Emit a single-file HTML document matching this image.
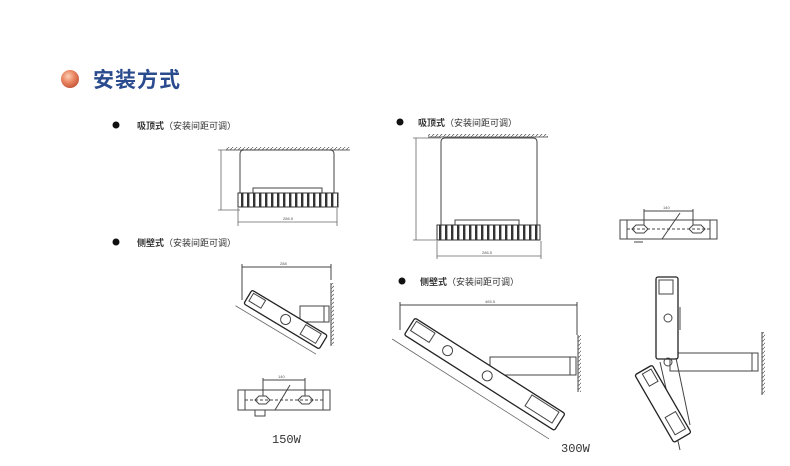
<!DOCTYPE html>
<html><head><meta charset="utf-8"><style>
html,body{margin:0;padding:0;background:#fff;}
svg{display:block;}
text{font-family:"Liberation Sans","Noto Sans CJK SC",sans-serif;}
text.mono{font-family:"Liberation Mono",monospace;}
</style></head><body>
<svg width="790" height="466" viewBox="0 0 790 466" xmlns="http://www.w3.org/2000/svg">
<defs>
<radialGradient id="ball" cx="40%" cy="35%" r="65%"><stop offset="0" stop-color="#fbd0b8"/><stop offset="0.5" stop-color="#ec8a66"/><stop offset="1" stop-color="#c85a3c"/></radialGradient>
<pattern id="fins" width="6" height="20" patternUnits="userSpaceOnUse"><rect width="6" height="20" fill="#fff"/><rect x="1" y="0" width="2.4" height="20" fill="#333"/></pattern>
<pattern id="hatch" width="4" height="4" patternUnits="userSpaceOnUse"><path d="M0 4 L4 0" stroke="#666" stroke-width="0.8"/></pattern>
</defs>
<rect width="790" height="466" fill="#fff"/>
<circle cx="70" cy="79" r="9" fill="url(#ball)"/>
<text x="93" y="87" font-size="21" font-weight="bold" fill="#2a4b8e" letter-spacing="1">安装方式</text>

<g font-size="9" fill="#333">
<circle cx="116" cy="125" r="3.5" fill="#111"/><text x="137" y="129"><tspan font-weight="bold">吸顶式</tspan>（安装间距可调）</text>
<circle cx="116" cy="242" r="3.5" fill="#111"/><text x="137" y="246"><tspan font-weight="bold">侧壁式</tspan>（安装间距可调）</text>
<circle cx="400" cy="122" r="3.5" fill="#111"/><text x="418" y="126"><tspan font-weight="bold">吸顶式</tspan>（安装间距可调）</text>
<circle cx="402" cy="281" r="3.5" fill="#111"/><text x="420" y="285"><tspan font-weight="bold">侧壁式</tspan>（安装间距可调）</text>
</g>

<g fill="none" stroke="#444" stroke-width="1">
<line x1="226" y1="150" x2="350" y2="150" stroke="#666"/>
<rect x="226" y="147" width="124" height="3" fill="url(#hatch)" stroke="none"/>
<path d="M240 193 V154 Q240 150 244 150 H330 Q334 150 334 154 V193"/>
<rect x="253" y="188" width="69" height="6" fill="#fff"/>
<rect x="238" y="193" width="100" height="14" fill="url(#fins)" stroke="#333"/>
<g stroke="#666" stroke-width="0.8">
<line x1="221" y1="150" x2="221" y2="210"/><line x1="218" y1="150" x2="240" y2="150"/><line x1="218" y1="210" x2="240" y2="210"/>
<line x1="238" y1="222" x2="337" y2="222"/><line x1="238" y1="208" x2="238" y2="226"/><line x1="337" y1="208" x2="337" y2="226"/>
</g>

<line x1="428" y1="137" x2="548" y2="137" stroke="#666"/>
<rect x="428" y="134" width="120" height="3" fill="url(#hatch)" stroke="none"/>
<path d="M441 226 V142 Q441 138 445 138 H533 Q537 138 537 142 V226"/>
<rect x="455" y="220" width="64" height="6" fill="#fff"/>
<rect x="437" y="225" width="103" height="15" fill="url(#fins)" stroke="#333"/>
<g stroke="#666" stroke-width="0.8">
<line x1="416" y1="138" x2="416" y2="240"/><line x1="413" y1="138" x2="441" y2="138"/><line x1="413" y1="240" x2="437" y2="240"/>
<line x1="437" y1="256" x2="541" y2="256"/><line x1="437" y1="241" x2="437" y2="259"/><line x1="541" y1="241" x2="541" y2="259"/>
</g>

<rect x="620" y="220" width="97" height="19"/>
<line x1="627" y1="220" x2="627" y2="239"/><line x1="710" y1="220" x2="710" y2="239"/>
<path d="M632 229 L636 225 H644 L648 229 L644 233 H636 Z"/>
<path d="M689 229 L693 225 H701 L705 229 L701 233 H693 Z"/>
<line x1="627" y1="229" x2="710" y2="229" stroke-dasharray="3 2"/>
<line x1="644" y1="211" x2="693" y2="211"/><line x1="644" y1="209" x2="644" y2="225"/><line x1="693" y1="209" x2="693" y2="225"/>
<line x1="662" y1="239" x2="680" y2="213"/>
<line x1="634" y1="242" x2="643" y2="242"/>

<line x1="242" y1="267" x2="331" y2="267"/><line x1="242" y1="264" x2="242" y2="300"/><line x1="331" y1="264" x2="331" y2="280"/>
<line x1="331" y1="283" x2="331" y2="346" stroke="#444"/>
<rect x="331" y="283" width="3" height="63" fill="url(#hatch)" stroke="none"/>
<rect x="300" y="306" width="29" height="16" fill="#fff"/>
<line x1="324" y1="306" x2="324" y2="322"/>
<g transform="translate(252,290) rotate(31)">
<rect x="0" y="0" width="88" height="16" rx="2" fill="#fff" stroke="#222" stroke-width="1.3"/>
<rect x="3" y="2" width="14" height="9"/>
<circle cx="44" cy="8" r="5"/>
<rect x="64" y="2" width="18" height="11"/>
<line x1="-6" y1="22" x2="88" y2="22" stroke="#666" stroke-width="0.8"/>
</g>
<rect x="238" y="390" width="92" height="20"/>
<line x1="245" y1="390" x2="245" y2="410"/><line x1="323" y1="390" x2="323" y2="410"/>
<path d="M255 400 L259 396 H266 L270 400 L266 404 H259 Z"/>
<path d="M298 400 L302 396 H309 L313 400 L309 404 H302 Z"/>
<line x1="245" y1="400" x2="323" y2="400" stroke-dasharray="3 2"/>
<line x1="263" y1="380" x2="305" y2="380"/><line x1="263" y1="378" x2="263" y2="396"/><line x1="305" y1="378" x2="305" y2="396"/>
<line x1="275" y1="410" x2="290" y2="385"/>
<path d="M255 410 V416 H265 V410"/>

<line x1="400" y1="305" x2="577" y2="305"/><line x1="400" y1="302" x2="400" y2="330"/><line x1="577" y1="302" x2="577" y2="335"/>
<line x1="578" y1="335" x2="578" y2="392" stroke="#444"/>
<rect x="578" y="335" width="3" height="57" fill="url(#hatch)" stroke="none"/>
<rect x="490" y="357" width="86" height="18" fill="#fff"/>
<line x1="570" y1="357" x2="570" y2="375"/>
<g transform="translate(415,318) rotate(32.5)">
<rect x="0" y="0" width="178" height="20" rx="2" fill="#fff" stroke="#222" stroke-width="1.3"/>
<rect x="3" y="2" width="22" height="11"/>
<circle cx="45" cy="10" r="5"/>
<circle cx="92" cy="10" r="5"/>
<rect x="140" y="2" width="32" height="13"/>
<line x1="-8" y1="30" x2="178" y2="30" stroke="#666" stroke-width="0.8"/>
</g>

<line x1="762" y1="332" x2="762" y2="395" stroke="#444"/>
<rect x="762" y="332" width="3" height="63" fill="url(#hatch)" stroke="none"/>
<rect x="670" y="353" width="88" height="18" fill="#fff"/>
<line x1="752" y1="353" x2="752" y2="371"/>
<rect x="656" y="277" width="22" height="82" rx="2" fill="#fff" stroke="#222" stroke-width="1.3"/>
<rect x="659" y="280" width="14" height="14"/>
<circle cx="668" cy="318" r="4"/><circle cx="668" cy="362" r="4"/>
<line x1="680" y1="307" x2="680" y2="330"/>
<line x1="660" y1="362" x2="680" y2="450"/><line x1="676" y1="358" x2="690" y2="425"/>
<g transform="translate(640,372) rotate(60)">
<rect x="0" y="-14" width="78" height="20" rx="2" fill="#fff" stroke="#222" stroke-width="1.3"/>
<rect x="3" y="-11" width="14" height="10"/>
<rect x="52" y="-11" width="20" height="12"/>
</g>
</g>

<g font-size="4" fill="#555">
<text x="283" y="220">286.5</text><text x="482" y="254">286.5</text>
<text x="280" y="265">288</text><text x="485" y="303">465.5</text>
<text x="663" y="209">140</text><text x="278" y="378">140</text>
</g>
<text class="mono" x="272" y="443" font-size="12" fill="#333">150W</text>
<text class="mono" x="561" y="452" font-size="12" fill="#333">300W</text>
</svg>
</body></html>
